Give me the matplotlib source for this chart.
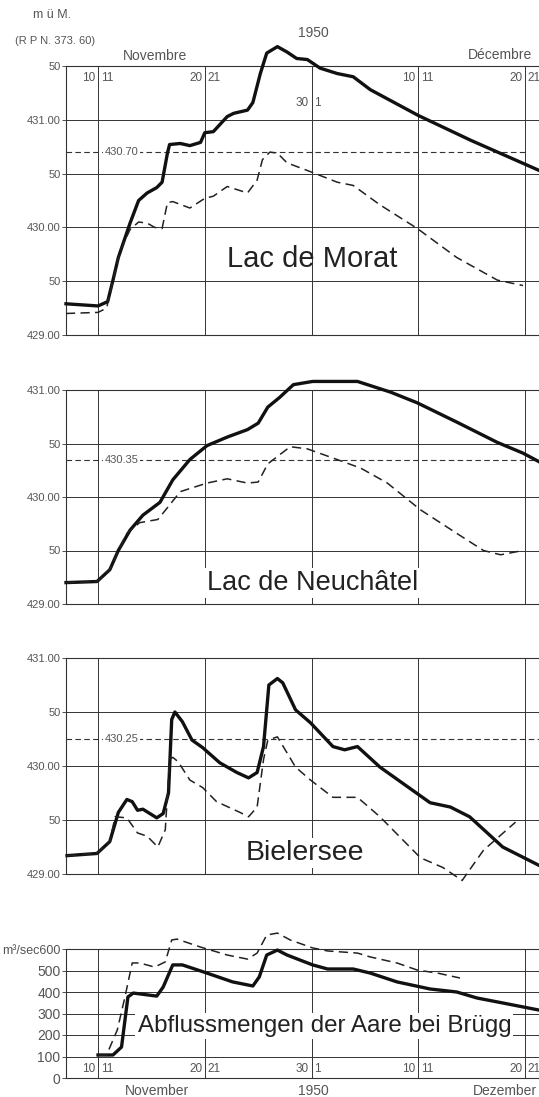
import matplotlib
matplotlib.use('Agg')
import matplotlib.pyplot as plt
import matplotlib.transforms as mtransforms

plt.rcParams['font.family'] = ['Liberation Sans', 'DejaVu Sans']

# x = days since 1 Nov 1950, 00:00 (10 = boundary 10/11 Nov, 30 = 30 Nov / 1 Dec)
morat_days = [7.0, 10.0, 10.9, 11.4, 11.9, 13.0, 13.8, 14.6, 15.5, 16.0, 16.5, 16.7, 17.7, 18.6,
              19.6, 20.0, 20.8, 22.1, 22.7, 24.0, 24.5, 25.2, 25.8, 26.8, 27.7, 28.6, 29.6, 30.8,
              32.4, 33.9, 35.5, 40.0, 44.9, 51.3]
morat_level = [429.29, 429.27, 429.31, 429.51, 429.72, 430.04, 430.25, 430.32, 430.37, 430.42,
               430.69, 430.77, 430.78, 430.76, 430.79, 430.88, 430.89, 431.03, 431.06, 431.09,
               431.16, 431.43, 431.62, 431.68, 431.63, 431.57, 431.56, 431.48, 431.43, 431.40,
               431.28, 431.04, 430.81, 430.53]
morat_days_ref = [7.0, 10.0, 10.8, 11.3, 12.1, 13.0, 13.8, 14.6, 15.3, 16.0, 16.5, 17.0, 18.6, 20.0,
                  20.8, 22.1, 24.0, 24.9, 25.4, 26.1, 26.8, 27.7, 30.1, 32.4, 33.9, 36.4, 39.9,
                  43.6, 47.4, 49.8]
morat_level_ref = [429.20, 429.21, 429.25, 429.46, 429.79, 429.98, 430.05, 430.04, 430.00, 429.99,
                   430.23, 430.24, 430.18, 430.27, 430.29, 430.38, 430.32, 430.44, 430.63, 430.70,
                   430.69, 430.60, 430.51, 430.42, 430.39, 430.21, 429.99, 429.72, 429.51, 429.46]

neuch_days = [7.0, 9.9, 11.1, 11.9, 13.0, 14.2, 15.8, 17.0, 18.6, 20.2, 22.1, 24.0, 25.0, 25.9,
              27.0, 28.3, 30.1, 34.3, 37.4, 39.9, 43.6, 47.4, 49.8, 51.3]
neuch_level = [429.20, 429.21, 429.32, 429.50, 429.69, 429.83, 429.95, 430.16, 430.35, 430.48,
               430.56, 430.63, 430.69, 430.84, 430.93, 431.05, 431.08, 431.08, 430.98, 430.88,
               430.70, 430.51, 430.41, 430.33]
neuch_days_ref = [7.0, 9.9, 11.1, 11.9, 12.7, 13.9, 15.6, 16.5, 17.7, 20.2, 22.1, 24.0, 25.0, 25.9,
                  28.0, 29.6, 32.4, 34.6, 37.1, 40.2, 43.6, 46.1, 47.7, 49.8]
neuch_level_ref = [429.20, 429.21, 429.32, 429.50, 429.66, 429.76, 429.79, 429.90, 430.05, 430.13,
                   430.17, 430.13, 430.14, 430.31, 430.47, 430.45, 430.35, 430.27, 430.13, 429.88,
                   429.66, 429.50, 429.46, 429.50]

biel_days = [7.1, 9.9, 11.1, 11.9, 12.7, 13.2, 13.7, 14.2, 15.5, 16.1, 16.6, 16.9, 17.2, 17.9,
             18.8, 19.8, 21.4, 23.0, 24.1, 24.9, 25.5, 26.0, 26.8, 27.3, 28.5, 29.9, 32.0, 33.1,
             34.3, 36.4, 41.1, 43.0, 44.8, 47.9, 51.3]
biel_level = [429.17, 429.19, 429.30, 429.57, 429.69, 429.67, 429.59, 429.60, 429.52, 429.56,
              429.75, 430.43, 430.50, 430.41, 430.24, 430.17, 430.03, 429.94, 429.89, 429.94,
              430.18, 430.75, 430.81, 430.77, 430.52, 430.40, 430.18, 430.15, 430.18, 429.99,
              429.66, 429.62, 429.53, 429.25, 429.08]
biel_days_ref = [7.1, 9.9, 11.1, 11.6, 12.7, 13.7, 14.6, 15.6, 16.3, 16.7, 17.0, 17.5, 18.6, 19.8,
                 21.1, 23.3, 24.1, 24.9, 25.5, 25.9, 26.8, 28.5, 29.9, 32.0, 34.3, 36.4, 40.2,
                 42.3, 44.1, 46.1, 49.1]
biel_level_ref = [429.17, 429.19, 429.30, 429.53, 429.52, 429.38, 429.35, 429.25, 429.41, 430.06,
                  430.08, 430.04, 429.87, 429.80, 429.67, 429.57, 429.53, 429.62, 430.06, 430.24,
                  430.27, 429.99, 429.87, 429.71, 429.71, 429.53, 429.15, 429.06, 428.94, 429.22,
                  429.48]

aare_days = [10.0, 11.4, 12.2, 12.8, 13.3, 15.5, 16.1, 17.0, 17.9, 20.2, 22.6, 24.5, 25.1, 25.8,
             26.8, 27.7, 30.1, 31.5, 33.9, 35.5, 38.0, 41.1, 43.6, 45.5, 47.9, 51.3]
aare_flow = [107, 107, 144, 377, 395, 381, 423, 526, 526, 488, 447, 428, 470, 572,
             595, 572, 526, 507, 507, 488, 447, 414, 400, 372, 349, 316]
aare_days_ref = [10.0, 10.8, 11.8, 12.5, 13.2, 13.9, 15.3, 16.3, 16.9, 17.4, 19.6, 22.1, 24.0, 24.9,
                 25.8, 26.8, 28.0, 30.1, 31.5, 34.3, 35.5, 38.0, 39.9, 41.8, 43.9]
aare_flow_ref = [107, 107, 223, 372, 535, 535, 516, 540, 642, 646, 609, 572, 553, 581,
                 665, 674, 642, 605, 591, 581, 563, 535, 502, 488, 465]

level_ticks = [429.0, 429.5, 430.0, 430.5, 431.0, 431.5]
level_labels = ['429.00', '50', '430.00', '50', '431.00', '50']
flow_ticks = [0, 100, 200, 300, 400, 500, 600]
flow_labels = ['0', '100', '200', '300', '400', '500', 'm³/sec600']
day_marks = [10, 20, 30, 40, 50]
day_pairs = [('10', '11'), ('20', '21'), ('30', '1'), ('10', '11'), ('20', '21')]

W, H = 539, 1097
GRAY = '#555555'
XMIN, XMAX = 7.0, 51.3


def frac(top, bottom):
    return [66 / W, 1 - bottom / H, 1 - 66 / W, (bottom - top) / H]


fig = plt.figure(figsize=(W / 100, H / 100), dpi=100)
fig.patch.set_facecolor('white')


def setup(ax, ylim, ticks, labels, fs):
    ax.set_xlim(XMIN, XMAX)
    ax.set_ylim(*ylim)
    ax.set_xticks(day_marks)
    ax.set_xticklabels([])
    ax.tick_params(axis='x', length=0)
    ax.set_yticks(ticks)
    ax.set_yticklabels(labels, fontsize=fs, color=GRAY)
    ax.tick_params(axis='y', length=3, width=0.6, pad=1, color='#333333')
    ax.grid(True, color='#333333', linewidth=0.7)
    ax.set_axisbelow(True)
    ax.spines['right'].set_visible(False)
    for s in ('left', 'top', 'bottom'):
        ax.spines[s].set_linewidth(0.8)
        ax.spines[s].set_color('#333333')


def draw(ax, d1, v1, d2, v2):
    ax.plot(d1, v1, color='#111111', lw=2.4, solid_joinstyle='round', clip_on=False, zorder=3)
    ax.plot(d2, v2, color='#222222', lw=1.1, dashes=(6, 3.5), clip_on=False, zorder=3)


def day_labels(ax, yfrac, special=None):
    tr = mtransforms.blended_transform_factory(ax.transData, ax.transAxes)
    for d, (a, b) in zip(day_marks, day_pairs):
        y = yfrac
        if special is not None and d == 30:
            y = special
        ax.text(d - 0.25, y, a, transform=tr, ha='right', va='center', fontsize=8.5, color=GRAY)
        ax.text(d + 0.25, y, b, transform=tr, ha='left', va='center', fontsize=8.5, color=GRAY)


def ref_line(ax, level, label, x_end=XMAX):
    ax.plot([XMIN, x_end], [level, level], color='#333333', lw=0.8, dashes=(5, 3), zorder=1)
    ax.text(12.2, level, label, ha='center', va='center', fontsize=8, color=GRAY, zorder=2,
            bbox=dict(facecolor='white', edgecolor='none', pad=1))


def lake_name(ax, x, y, name, fs, box):
    kw = dict(ha='center', va='baseline', fontsize=fs, color='#222222', zorder=2)
    if box:
        kw['bbox'] = dict(facecolor='white', edgecolor='none', pad=1.5)
    ax.text(x, y, name, **kw)


# Lac de Morat
ax1 = fig.add_axes(frac(66, 335))
setup(ax1, (429.0, 431.5), level_ticks, level_labels, 8)
ref_line(ax1, 430.70, '430.70', x_end=50)
draw(ax1, morat_days, morat_level, morat_days_ref, morat_level_ref)
day_labels(ax1, 0.955, special=0.862)
lake_name(ax1, 30.1, 429.63, 'Lac de Morat', 21, False)

# Lac de Neuchâtel
ax2 = fig.add_axes(frac(390, 604))
setup(ax2, (429.0, 431.0), level_ticks[:-1], level_labels[:-1], 8)
ref_line(ax2, 430.35, '430.35')
draw(ax2, neuch_days, neuch_level, neuch_days_ref, neuch_level_ref)
lake_name(ax2, 30.1, 429.13, 'Lac de Neuchâtel', 19.5, True)

# Bielersee
ax3 = fig.add_axes(frac(658, 874))
setup(ax3, (429.0, 431.0), level_ticks[:-1], level_labels[:-1], 8)
ref_line(ax3, 430.25, '430.25')
draw(ax3, biel_days, biel_level, biel_days_ref, biel_level_ref)
lake_name(ax3, 29.4, 429.13, 'Bielersee', 20.5, True)

# Abflussmengen
ax4 = fig.add_axes(frac(949, 1078))
setup(ax4, (0, 600), flow_ticks, flow_labels, 10)
ax4.get_yticklabels()[-1].set_fontsize(9)
draw(ax4, aare_days, aare_flow, aare_days_ref, aare_flow_ref)
day_labels(ax4, 0.07)
lake_name(ax4, 31.2, 214, 'Abflussmengen der Aare bei Brügg', 17.4, True)

# header and footer texts
def ftext(x, y, s, fs, ha='center'):
    fig.text(x / W, 1 - y / H, s, fontsize=fs, color=GRAY, ha=ha, va='center')


ftext(52, 15, 'm ü M.', 9)
ftext(55, 41, '(R P N. 373. 60)', 8)
ftext(155, 56, 'Novembre', 10)
ftext(313, 33, '1950', 10)
ftext(500, 55, 'Décembre', 10)
ftext(157, 1091, 'November', 10)
ftext(313, 1091, '1950', 10)
ftext(505, 1091, 'Dezember', 10)

fig.savefig('out.png', dpi=100, facecolor='white')
